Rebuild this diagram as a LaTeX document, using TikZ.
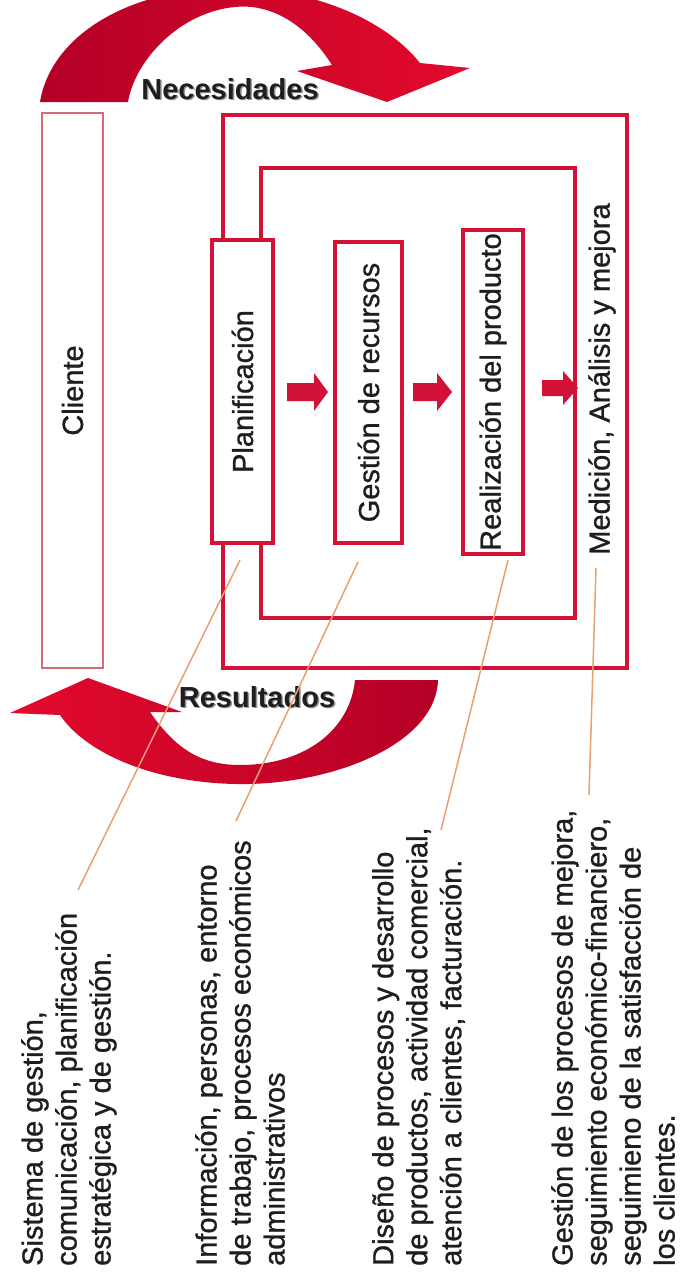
\documentclass[tikz,border=0pt]{standalone}
\usepackage{fontspec}
\setmainfont{Liberation Sans}
\newfontfamily\thickfont[FakeBold=1.0]{Liberation Sans}
\definecolor{boxred}{RGB}{210,18,55}
\definecolor{pinkline}{RGB}{215,105,125}
\definecolor{leader}{RGB}{232,160,115}
\definecolor{arrowdark}{RGB}{180,0,38}
\definecolor{arrowlight}{RGB}{228,10,45}
\definecolor{txt}{RGB}{30,30,30}
\definecolor{shadowgray}{RGB}{150,150,150}
\begin{document}
\begin{tikzpicture}[x=1pt,y=-1pt,
  lbl/.style={font=\thickfont\fontsize{29}{34}\selectfont, text=txt, inner sep=0pt},
  flowlbl/.style={font=\bfseries\fontsize{29}{34}\selectfont, text=txt, inner sep=0pt},
  box/.style={draw=boxred, line width=3.5pt, fill=white, rotate=90, inner sep=0pt,
              font=\thickfont\fontsize{29}{34}\selectfont, text=txt},
  loopline/.style={draw=boxred, line width=3.5pt},
  lead/.style={draw=leader, line width=1.5pt},
  blockarrow/.style={fill=boxred}]
\useasboundingbox (0,0) rectangle (680,1274);
\clip (0,0) rectangle (680,1274);
\fill[white] (0,0) rectangle (680,1274);

% curved arrow: Necesidades
\shade[left color=arrowdark, right color=arrowlight]
  (40,102) .. controls (50,40) and (120,-8) .. (220,-12)
  .. controls (320,-14) and (390,25) .. (420,63)
  -- (470,68) -- (387,102) -- (297,71) -- (332,65)
  .. controls (300,15) and (262,4) .. (235,7)
  .. controls (180,12) and (135,60) .. (128,102) -- cycle;
\node[flowlbl, text=shadowgray] at (231.5,90.5) {Necesidades};
\node[flowlbl] (nec) at (230,89) {Necesidades};

% curved arrow: Resultados
\shade[left color=arrowlight, right color=arrowdark]
  (355,680) -- (438,680)
  .. controls (436,745) and (330,786) .. (235,784)
  .. controls (150,782) and (85,752) .. (60,715)
  -- (10,713) -- (88,678) -- (182,712) -- (150,712)
  .. controls (175,748) and (200,765) .. (240,765)
  .. controls (305,765) and (350,730) .. (355,680) -- cycle;
\node[flowlbl, text=shadowgray] at (258.5,698.5) {Resultados};
\node[flowlbl] (res) at (257,697) {Resultados};

% client box
\node[draw=pinkline, line width=2pt, rotate=90, minimum width=555pt, minimum height=61pt,
      inner sep=0pt, font=\thickfont\fontsize{29}{34}\selectfont, text=txt] (cliente) at (72.5,390.5) {Cliente};

% loops
\draw[loopline] (223,115) rectangle (627,668);
\draw[loopline] (261,168) rectangle (575,618);

% process boxes
\node[box, minimum width=303pt, minimum height=61pt] (plan) at (242.5,391.5) {Planificación};
\node[box, minimum width=301pt, minimum height=67pt] (gest) at (368.5,392.5) {Gestión de recursos};
\node[box, minimum width=324pt, minimum height=60pt] (real) at (493,392) {Realización del producto};
\node[lbl, rotate=90] (med) at (602,379) {Medición, Análisis y mejora};

% block arrows
\fill[blockarrow] (287,383) -- (314,383) -- (314,373) -- (328,392) -- (314,411) -- (314,401) -- (287,401) -- cycle;
\fill[blockarrow] (413,383) -- (437,383) -- (437,373) -- (452,392) -- (437,411) -- (437,401) -- (413,401) -- cycle;
\fill[blockarrow] (542,380) -- (563,380) -- (563,371) -- (578,388) -- (563,405) -- (563,396) -- (542,396) -- cycle;

% descriptions
\node[lbl, rotate=90, anchor=north west, align=left] (d1) at (21,1266)
  {Sistema de gestión,\\comunicación, planificación\\estratégica y de gestión.};
\node[lbl, rotate=90, anchor=north west, align=left] (d2) at (195,1266)
  {Información, personas, entorno\\de trabajo, procesos económicos\\administrativos};
\node[lbl, rotate=90, anchor=north west, align=left] (d3) at (372,1266)
  {Diseño de procesos y desarrollo\\de productos, actividad comercial,\\atención a clientes, facturación.};
\node[lbl, rotate=90, anchor=north west, align=left] (d4) at (551,1266)
  {Gestión de los procesos de mejora,\\seguimiento económico-financiero,\\seguimieno de la satisfacción de\\los clientes.};

% leader lines
\coordinate (a1) at (240,560); \coordinate (b1) at (78,890);
\coordinate (a2) at (358,562); \coordinate (b2) at (236,821);
\coordinate (a3) at (508,560); \coordinate (b3) at (441,830);
\coordinate (a4) at (596,568); \coordinate (b4) at (589,795);
\draw[lead] (a1) -- (b1);
\draw[lead] (a2) -- (b2);
\draw[lead] (a3) -- (b3);
\draw[lead] (a4) -- (b4);
\end{tikzpicture}
\end{document}
